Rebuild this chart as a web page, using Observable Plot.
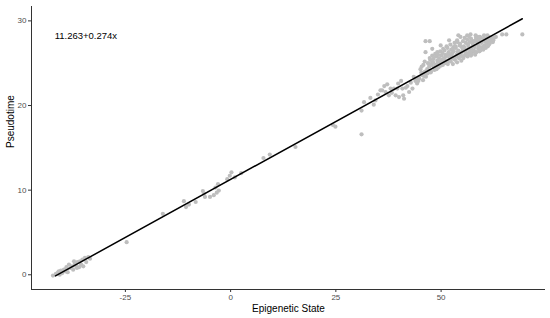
<!DOCTYPE html>
<html>
<head>
<meta charset="utf-8">
<script src="https://cdn.jsdelivr.net/npm/d3@7"></script>
<script src="https://cdn.jsdelivr.net/npm/@observablehq/plot@0.6"></script>
<style>
  html, body { margin: 0; padding: 0; background: #fff; }
  #chart { width: 550px; height: 318px; }
</style>
</head>
<body>
<div id="chart"></div>
<script>
const xTicks = [-25, 0, 25, 50];
const yTicks = [0, 10, 20, 30];
const intercept = 11.263;
const slope = 0.274;
const equationLabel = "11.263+0.274x";
const xTitle = "Epigenetic State";
const yTitle = "Pseudotime";

// Epigenetic State (x) and Pseudotime (y)
const lowCluster = [
  [-42.2,-0.1],[-41.5,0.1],[-41.0,0.3],[-40.6,0.0],[-40.3,0.5],[-40.0,0.2],[-39.6,0.6],[-39.2,0.4],
  [-39.0,0.9],[-38.7,0.3],[-38.4,1.2],[-38.0,0.8],[-37.7,1.0],[-37.4,0.6],[-37.0,1.3],[-36.7,1.0],
  [-36.4,1.5],[-36.0,0.9],[-35.8,1.6],[-35.5,1.2],[-35.2,1.8],[-35.0,1.0],[-34.6,2.0],[-34.3,1.5],
  [-33.8,2.1],[-33.4,1.9],[-36.5,0.8],[-37.2,1.6],[-38.8,0.7],[-40.8,0.4]
];
const midPoints = [
  [-24.7,3.85],[-16.1,7.2],[-11.1,8.7],[-10.6,8.0],[-9.9,8.3],[-8.3,8.6],[-6.6,9.9],[-6.3,9.6],
  [-6.1,9.2],[-4.9,9.2],[-4.0,9.4],[-3.6,10.3],[-3.0,10.7],[-2.8,9.95],[-3.3,9.7],[-0.8,11.3],
  [-0.2,11.7],[0.2,12.1],[1.0,11.5],[2.5,12.0],[7.8,13.8],[9.3,14.2],[15.4,15.1],[24.3,17.7],
  [24.9,17.5],[31.1,16.6],[31.1,19.4],[31.7,20.4],[34.0,20.1],[34.4,20.6],[35.6,21.8],[36.0,21.8],
  [36.8,21.6],[37.6,21.2],[38.0,22.0],[38.8,22.0],[39.2,21.2],[39.6,22.0],[40.0,21.0],[40.8,22.0],
  [41.0,21.2],[41.2,20.8],[42.0,22.3],[42.8,22.7],[43.2,22.0],[43.9,22.9],[44.0,23.1],[44.7,23.3],
  [45.5,23.6],[45.9,23.9],[46.7,23.9],[47.1,24.9],[47.9,25.1],[49.1,25.3],
  [33.2,20.9],[36.5,22.3],[37.2,22.5],[39.8,22.6],[40.5,22.9],[41.6,22.1],[42.4,21.6],[43.5,23.4],
  [44.3,22.6],[38.3,21.5],[35.0,21.3]
];
const upperOutliers = [
  [46.3,27.6],[47.3,27.6],[46.3,26.3],[47.9,26.7],[49.9,27.1],[51.9,27.7],[54.1,28.3],[54.6,28.1],
  [56.2,28.3],[57.0,28.4],[58.2,28.3],[58.7,28.1],[60.2,28.3],[61.0,28.3],[64.5,28.4],[65.5,28.4],
  [69.3,28.4]
];
const denseCloud = [
  [44.8,23.2],[45.3,23.9],[45.1,24.3],[44.6,22.9],
  [45.7,23.0],[45.4,24.6],[45.9,23.5],
  [46.2,24.0],[45.8,24.8],[46.4,23.4],[46.1,25.2],
  [46.7,24.3],[46.3,23.7],[46.9,25.0],
  [47.2,24.6],[46.8,23.8],[47.4,25.4],[47.0,24.1],
  [47.6,24.0],[47.3,25.6],[47.8,24.8],[47.5,23.9],
  [48.3,24.5],[48.1,25.1],[47.9,25.9],[48.4,24.2],
  [48.7,24.8],[48.2,25.5],[48.9,24.3],[48.6,26.1],
  [49.2,25.0],[49.4,24.5],[48.8,25.8],[49.1,26.3],[49.6,24.9],
  [49.7,25.2],[49.3,26.0],[49.9,24.7],[49.5,25.6],
  [50.2,25.4],[50.4,24.8],[49.8,26.4],[50.1,25.9],[50.6,25.1],
  [50.7,25.6],[50.3,26.2],[50.9,25.0],[50.5,26.7],[51.1,25.3],
  [51.2,25.8],[51.4,25.1],[50.8,26.5],[51.0,26.0],[51.6,24.9],[51.3,27.0],
  [51.7,26.1],[51.9,25.4],[51.5,26.8],[52.1,25.7],[51.8,26.3],
  [52.3,25.2],[52.0,26.0],[52.4,26.6],[52.2,27.2],[52.6,25.6],[52.8,24.9],
  [52.7,26.2],[53.1,25.5],[52.9,26.9],[52.5,25.9],[53.2,27.4],
  [53.3,25.4],[53.0,26.4],[53.4,27.0],[53.6,25.8],[52.8,26.7],[53.8,25.1],
  [53.7,26.0],[53.5,26.8],[53.9,27.5],[54.2,25.6],[54.0,26.3],
  [54.3,25.7],[54.1,26.5],[54.4,27.1],[54.6,26.0],[53.8,27.7],[54.8,25.3],
  [54.7,26.2],[54.9,26.9],[55.1,25.8],[54.5,27.3],[55.2,26.6],
  [55.3,25.6],[55.0,26.4],[55.4,27.0],[55.7,26.0],[55.2,27.6],[55.6,28.0],
  [55.8,26.3],[55.5,26.8],[56.0,25.9],[55.9,27.4],[56.2,26.1],
  [56.3,25.8],[56.1,26.6],[56.4,27.2],[56.7,26.2],[56.2,27.8],[56.6,28.2],
  [56.9,26.4],[56.5,27.0],[57.1,25.9],[56.8,27.5],[57.2,26.8],
  [57.3,26.1],[57.0,26.7],[57.5,27.3],[57.4,27.6],[57.1,27.9],[57.7,26.4],
  [57.8,26.5],[57.6,27.1],[58.1,26.0],[57.9,27.6],[58.3,28.0],
  [58.4,26.3],[58.0,26.9],[58.6,27.4],[58.2,27.7],[58.5,27.9],
  [58.8,26.7],[58.7,27.2],[59.1,26.4],[58.9,27.7],[59.2,28.1],
  [59.3,26.5],[59.0,27.0],[59.5,27.5],[59.7,26.8],[59.4,28.0],
  [59.8,26.9],[59.6,27.4],[60.1,27.8],[60.0,26.6],
  [60.3,27.1],[60.4,27.6],[60.6,26.8],[60.2,28.0],
  [60.8,27.3],[60.7,27.8],[61.1,27.0],
  [61.2,27.5],[61.0,27.9],[61.4,27.2],[61.3,28.1],
  [61.7,27.7],[61.6,27.4],
  [62.1,27.8],[61.9,28.0],[62.3,27.5],
  [62.6,28.0],[62.4,27.7],
  [63.0,28.1]
];

const points = [...lowCluster, ...midPoints, ...upperOutliers, ...denseCloud]
  .map(([x, y]) => ({x, y}));
const xExtent = d3.extent(points, d => d.x);
const fitLine = [
  {x: -41.6, y: intercept + slope * -41.6},
  {x: xExtent[1], y: intercept + slope * xExtent[1]}
];

const xDomain = [-47.3, 74.8];
const yDomain = [-1.74, 31.7];

const chart = Plot.plot({
  width: 550,
  height: 318,
  marginLeft: 31,
  marginRight: 5,
  marginTop: 6,
  marginBottom: 29,
  style: {fontFamily: "'Liberation Sans', Arial, sans-serif", background: "#fff"},
  x: {domain: xDomain},
  y: {domain: yDomain},
  marks: [
    Plot.dot(points, {x: "x", y: "y", r: 2.1, fill: "#bebebe", stroke: "none"}),
    Plot.line(fitLine, {x: "x", y: "y", stroke: "#000", strokeWidth: 1.5}),
    Plot.ruleX([xDomain[0]], {stroke: "#333", strokeWidth: 1}),
    Plot.ruleY([yDomain[0]], {stroke: "#333", strokeWidth: 1}),
    Plot.axisX({ticks: xTicks, tickSize: 3, tickPadding: 2, stroke: "#333", fill: "#4d4d4d", fontSize: 8, label: null, tickFormat: d => String(d)}),
    Plot.axisY({ticks: yTicks, tickSize: 3, tickPadding: 2, stroke: "#333", fill: "#4d4d4d", fontSize: 8, label: null}),
    Plot.text([xTitle], {frameAnchor: "bottom", dy: 22, fontSize: 10, fill: "#000", text: d => d}),
    Plot.text([yTitle], {frameAnchor: "left", dx: -21, rotate: -90, fontSize: 10, fill: "#000", text: d => d}),
    Plot.text([equationLabel], {x: [-41.8], y: [28.25], text: d => d, textAnchor: "start", fontSize: 9.5, fill: "#000"})
  ]
});
document.getElementById("chart").appendChild(chart);
</script>
</body>
</html>
